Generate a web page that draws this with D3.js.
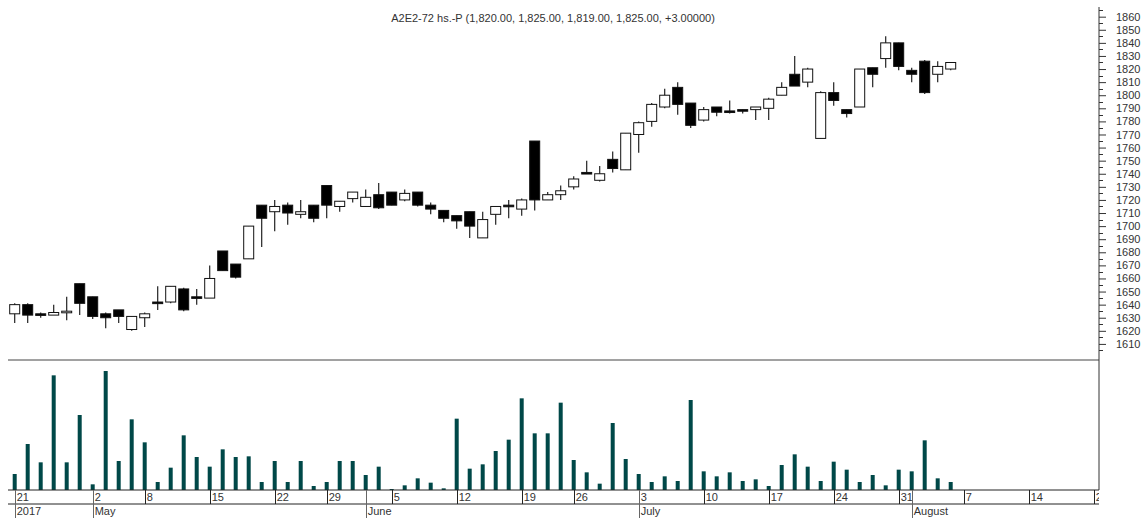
<!DOCTYPE html>
<html>
<head>
<meta charset="utf-8">
<script src="https://cdn.jsdelivr.net/npm/d3@7"></script>
<style>
  body { margin: 0; background: #fff; }
  svg text { font-family: "Liberation Sans", Arial, sans-serif; fill: #333; }
</style>
</head>
<body>
<div id="chart"></div>
<script>
// Trading days (2017) and the empty slots after the last bar
var dates = ["04-21","04-24","04-25","04-26","04-27","04-28",
  "05-02","05-03","05-04","05-05","05-08","05-09","05-10","05-11","05-12",
  "05-15","05-16","05-17","05-18","05-19","05-22","05-23","05-24","05-25",
  "05-29","05-30","05-31","06-01","06-02","06-05","06-06","06-07","06-08","06-09",
  "06-12","06-13","06-14","06-15","06-16","06-19","06-20","06-21","06-22",
  "06-26","06-27","06-28","06-29","06-30","07-03","07-04","07-05","07-06","07-07",
  "07-10","07-11","07-12","07-13","07-14","07-17","07-18","07-19","07-20","07-21",
  "07-24","07-25","07-26","07-27","07-28","07-31","08-01","08-02","08-03","08-04"];
var futureDates = ["08-07","08-08","08-09","08-10","08-11","08-14","08-15","08-16","08-17","08-18","08-21"];

var open  = [1633,1640,1633,1632,1634,1656,1646,1633,1636,1621,1630,1642,1642,1652,1646,1645,1681,1671,1675,1716,
             1711,1716,1709,1716,1731,1715,1721,1715,1724,1726,1720,1726,1716,1712,1708,1711,1691,1709,1716,1713,
             1765,1720,1724,1730,1741,1735,1751,1743,1770,1780,1791,1806,1794,1781,1791,1788,1789,1789,1790,1800,
             1816,1810,1767,1802,1789,1791,1821,1828,1840,1819,1826,1816,1820];
var high  = [1641,1641,1634,1640,1646,1656,1646,1634,1636,1631,1634,1654,1654,1653,1652,1670,1681,1671,1700,1716,
             1720,1718,1720,1716,1731,1719,1726,1728,1733,1726,1728,1726,1718,1712,1708,1711,1711,1715,1720,1721,
             1765,1726,1731,1738,1750,1746,1757,1771,1780,1794,1805,1810,1794,1791,1791,1796,1789,1791,1798,1810,
             1830,1821,1803,1810,1789,1820,1821,1845,1840,1821,1827,1826,1825];
var low   = [1626,1626,1630,1632,1628,1632,1629,1622,1626,1620,1623,1636,1641,1635,1640,1645,1666,1660,1675,1684,
             1696,1701,1706,1703,1706,1711,1718,1715,1713,1716,1719,1715,1709,1703,1698,1691,1691,1701,1706,1708,
             1712,1720,1720,1728,1740,1734,1741,1743,1756,1776,1790,1785,1775,1780,1784,1786,1786,1781,1781,1800,
             1807,1806,1767,1792,1783,1791,1806,1821,1819,1810,1801,1810,1819];
var close = [1640,1632,1632,1634,1635,1641,1631,1630,1631,1631,1633,1641,1654,1636,1646,1660,1666,1661,1700,1706,
             1715,1710,1711,1706,1716,1719,1726,1722,1714,1716,1725,1716,1713,1706,1704,1700,1705,1715,1715,1720,
             1720,1724,1727,1736,1740,1740,1744,1771,1779,1793,1800,1793,1777,1789,1787,1788,1788,1791,1797,1806,
             1807,1820,1802,1796,1786,1820,1816,1840,1822,1816,1802,1822,1825];
var volume = [48,138,83,344,83,225,17,357,87,212,143,24,67,164,99,70,122,99,101,24,
              87,24,87,12,24,87,87,45,70,3,14,35,22,5,214,64,77,117,151,275,
              170,170,262,90,53,19,201,93,48,24,41,27,270,56,41,53,27,32,12,75,
              107,70,27,85,61,24,45,14,61,56,149,35,24];
var monthNames = ["January","February","March","April","May","June","July","August","September","October","November","December"];
var priceTicks = d3.range(1610, 1861, 10);
var title = "A2E2-72 hs.-P (1,820.00, 1,825.00, 1,819.00, 1,825.00, +3.00000)";

var width = 1146, height = 518;
var plotRight = 1099;
var priceTop = 7, priceBottom = 360, volBottom = 490, axisMid = 504;

var svg = d3.select("#chart").append("svg")
  .attr("width", width)
  .attr("height", height);

var slots = dates.concat(futureDates);
var x = d3.scalePoint().domain(slots).range([14.7, 14.7 + 13 * (slots.length - 1)]);
var y = d3.scaleLinear().domain([1600, 1867.4]).range([357, 7]);
var yVol = d3.scaleLinear().domain([0, 390]).range([volBottom, priceBottom]);

var bars = dates.map(function(d, i) {
  return {date: d, o: open[i], h: high[i], l: low[i], c: close[i], v: volume[i]};
});

svg.append("defs").append("clipPath").attr("id", "plotClip")
  .append("rect").attr("x", 0).attr("y", 0).attr("width", plotRight).attr("height", height);

// title
svg.append("text")
  .attr("x", 553).attr("y", 22)
  .attr("text-anchor", "middle")
  .style("font-size", "11px")
  .text(title);

// candles
var candle = svg.append("g").selectAll("g")
  .data(bars).enter().append("g");

candle.append("line")
  .attr("x1", function(d) { return x(d.date); })
  .attr("x2", function(d) { return x(d.date); })
  .attr("y1", function(d) { return y(d.h); })
  .attr("y2", function(d) { return y(d.l); })
  .attr("stroke", "#222")
  .attr("stroke-width", 1.2);

candle.append("rect")
  .attr("x", function(d) { return x(d.date) - 5; })
  .attr("width", 10)
  .attr("y", function(d) { return y(Math.max(d.o, d.c)); })
  .attr("height", function(d) { return Math.max(1.6, Math.abs(y(d.o) - y(d.c))); })
  .attr("fill", function(d) { return d.c > d.o ? "#fff" : "#000"; })
  .attr("stroke", "#111")
  .attr("stroke-width", 1);

// volume
svg.append("g").selectAll("rect")
  .data(bars).enter().append("rect")
  .attr("x", function(d) { return x(d.date) - 2; })
  .attr("width", 4)
  .attr("y", function(d) { return yVol(d.v); })
  .attr("height", function(d) { return volBottom - yVol(d.v); })
  .attr("fill", "#004848");

// pane divider and right spine
svg.append("line")
  .attr("x1", 8).attr("x2", plotRight)
  .attr("y1", priceBottom).attr("y2", priceBottom)
  .attr("stroke", "#444");

svg.append("line")
  .attr("x1", plotRight).attr("x2", plotRight)
  .attr("y1", priceTop).attr("y2", volBottom)
  .attr("stroke", "#333");

// right price axis
var yAxis = d3.axisRight(y).tickValues(priceTicks).tickSize(7).tickPadding(10).tickFormat(d3.format("d"));
var gy = svg.append("g")
  .attr("transform", "translate(" + plotRight + ",0)")
  .call(yAxis);
gy.select(".domain").remove();
gy.selectAll("line").attr("stroke", "#333");
gy.selectAll("text").style("font-size", "11px").attr("fill", "#333");

svg.append("g").selectAll("line")
  .data(d3.range(1605, 1866, 10)).enter().append("line")
  .attr("x1", plotRight).attr("x2", plotRight + 4)
  .attr("y1", function(d) { return Math.round(y(d)) + 0.5; })
  .attr("y2", function(d) { return Math.round(y(d)) + 0.5; })
  .attr("stroke", "#333");

// date axis: a tick on the first trading day of each week, a month tick on each new month
var parse = d3.timeParse("%Y-%m-%d");
var dayTicks = [], monthTicks = [];
var lastTick = -99;
slots.forEach(function(s, i) {
  var d = parse("2017-" + s);
  var prev = i > 0 ? parse("2017-" + slots[i - 1]) : null;
  var weekStart = !prev || d.getDay() <= prev.getDay() || (d - prev) > 3 * 864e5;
  if (weekStart && i - lastTick > 2) {
    dayTicks.push({slot: s, label: String(d.getDate())});
    lastTick = i;
  }
  if (!prev) monthTicks.push({slot: s, label: "2017"});
  else if (d.getMonth() !== prev.getMonth()) monthTicks.push({slot: s, label: monthNames[d.getMonth()]});
});

var gx = svg.append("g").attr("clip-path", "url(#plotClip)");

gx.append("line").attr("x1", 8).attr("x2", plotRight)
  .attr("y1", volBottom).attr("y2", volBottom).attr("stroke", "#222");
gx.append("line").attr("x1", 8).attr("x2", plotRight)
  .attr("y1", axisMid).attr("y2", axisMid).attr("stroke", "#222");

gx.selectAll(".dtick").data(dayTicks).enter().append("line")
  .attr("class", "dtick")
  .attr("x1", function(d) { return Math.round(x(d.slot)) + 0.5; })
  .attr("x2", function(d) { return Math.round(x(d.slot)) + 0.5; })
  .attr("y1", volBottom).attr("y2", axisMid)
  .attr("stroke", "#222");

gx.selectAll(".dlabel").data(dayTicks).enter().append("text")
  .attr("class", "dlabel")
  .attr("x", function(d) { return x(d.slot) + 2; })
  .attr("y", 501)
  .style("font-size", "11px")
  .text(function(d) { return d.label; });

gx.selectAll(".mtick").data(monthTicks).enter().append("line")
  .attr("class", "mtick")
  .attr("x1", function(d) { return Math.round(x(d.slot)) + 0.5; })
  .attr("x2", function(d) { return Math.round(x(d.slot)) + 0.5; })
  .attr("y1", volBottom).attr("y2", height)
  .attr("stroke", "#666");

gx.selectAll(".mlabel").data(monthTicks).enter().append("text")
  .attr("class", "mlabel")
  .attr("x", function(d) { return x(d.slot) + 2; })
  .attr("y", 515)
  .style("font-size", "11px")
  .text(function(d) { return d.label; });
</script>
</body>
</html>
